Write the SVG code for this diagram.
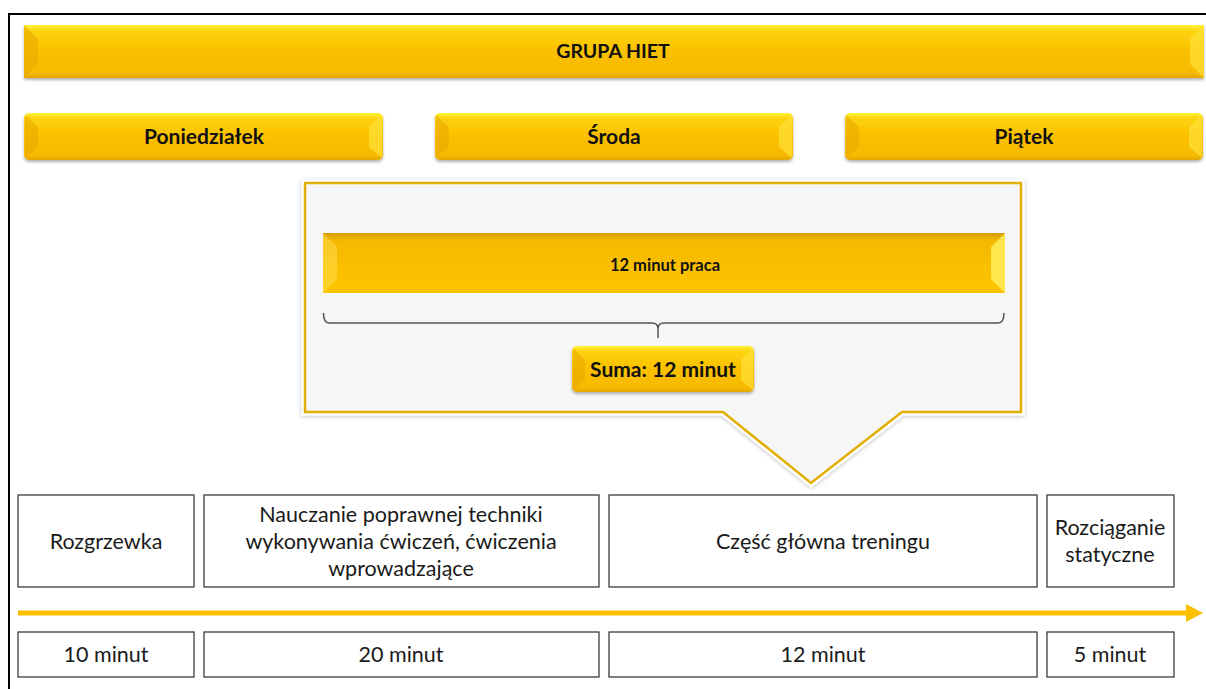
<svg xmlns="http://www.w3.org/2000/svg" width="1206" height="689" viewBox="0 0 1206 689">
<defs>
<linearGradient id="gold" x1="0" y1="0" x2="0" y2="1">
<stop offset="0" stop-color="#fff33a"/>
<stop offset="0.12" stop-color="#fdd20c"/>
<stop offset="0.5" stop-color="#fbc000"/>
<stop offset="0.9" stop-color="#f7ba00"/>
<stop offset="1" stop-color="#e3a700"/>
</linearGradient>
<linearGradient id="goldIn" x1="0" y1="0" x2="0" y2="1">
<stop offset="0" stop-color="#d49c00"/>
<stop offset="0.12" stop-color="#f4b800"/>
<stop offset="0.6" stop-color="#fbc000"/>
<stop offset="1" stop-color="#fcc400"/>
</linearGradient>
<filter id="sh" x="-5%" y="-20%" width="110%" height="150%">
<feDropShadow dx="0" dy="2" stdDeviation="1.5" flood-color="#000" flood-opacity="0.3"/>
</filter>
<filter id="sh2" x="-5%" y="-10%" width="110%" height="130%">
<feDropShadow dx="0" dy="1" stdDeviation="2" flood-color="#000" flood-opacity="0.25"/>
</filter>
<style>
.bold{font-family:Lato,"Liberation Sans",sans-serif;font-weight:bold;fill:#111;text-anchor:middle}
.reg{font-family:Lato,"Liberation Sans",sans-serif;fill:#1a1a1a;text-anchor:middle;font-size:21.5px}
.box{fill:#fff;stroke:#3c3c3c;stroke-width:1.3}
.bevL{fill:#e8a800;opacity:0.55}
.bevR{fill:#ffe640;opacity:0.6}
</style>
</defs>
<rect width="1206" height="689" fill="#fff"/>
<path d="M9,689 V14 H1206" fill="none" stroke="#000" stroke-width="2"/>

<g id="grupa-hiet">
<rect x="24" y="25" width="1180" height="53" fill="url(#gold)" filter="url(#sh)"/>
<polygon class="bevL" points="24,25 38,39 38,64 24,78"/>
<polygon class="bevR" points="1204,25 1190,39 1190,64 1204,78"/>
<text class="bold" x="613" y="58" font-size="19.5">GRUPA HIET</text>
</g>

<g id="poniedzialek">
<rect x="24" y="113" width="359" height="47" rx="5" fill="url(#gold)" filter="url(#sh)"/>
<polygon class="bevL" points="25,115 38,127 38,147 25,158"/>
<polygon class="bevR" points="382,115 369,127 369,147 382,158"/>
<text class="bold" x="204" y="144" font-size="21">Poniedziałek</text>
</g>
<g id="sroda">
<rect x="435" y="113" width="358" height="47" rx="5" fill="url(#gold)" filter="url(#sh)"/>
<polygon class="bevL" points="436,115 449,127 449,147 436,158"/>
<polygon class="bevR" points="792,115 779,127 779,147 792,158"/>
<text class="bold" x="614" y="144" font-size="21">Środa</text>
</g>
<g id="piatek">
<rect x="845" y="113" width="358" height="47" rx="5" fill="url(#gold)" filter="url(#sh)"/>
<polygon class="bevL" points="846,115 859,127 859,147 846,158"/>
<polygon class="bevR" points="1202,115 1189,127 1189,147 1202,158"/>
<text class="bold" x="1024" y="144" font-size="21">Piątek</text>
</g>

<g id="callout">
<path d="M305,183 H1021 V412 H902 L811,483 L723,412 H305 Z" fill="#f6f6f6" stroke="#fff" stroke-width="7" stroke-linejoin="miter" filter="url(#sh2)"/>
<path d="M305,183 H1021 V412 H902 L811,483 L723,412 H305 Z" fill="#f6f6f6" stroke="#e2ae00" stroke-width="2.5"/>
</g>

<g id="praca">
<rect x="323" y="233" width="682" height="60" fill="url(#goldIn)"/>
<polygon points="323,233 337,247 337,279 323,293" fill="#fde35a" opacity="0.45"/>
<polygon points="1005,233 991,247 991,279 1005,293" fill="#fff060" opacity="0.8"/>
<text class="bold" x="665" y="271" font-size="16.5">12 minut praca</text>
</g>

<g id="brace">
<path d="M323.5,313 Q323.5,323 329,323 H652 Q658,323 658,329 V338 M658,329 Q658,323 664,323 H998 Q1004,323 1004,313" fill="none" stroke="#555" stroke-width="1.5"/>
</g>

<g id="suma">
<rect x="572" y="346" width="182" height="46" rx="5" fill="url(#gold)" filter="url(#sh)"/>
<polygon class="bevL" points="573,348 585,359 585,380 573,390"/>
<polygon class="bevR" points="753,348 741,359 741,380 753,390"/>
<text class="bold" x="663" y="377" font-size="21">Suma: 12 minut</text>
</g>

<g id="rozgrzewka">
<rect class="box" x="18" y="495" width="176" height="92"/>
<text class="reg" x="106" y="549">Rozgrzewka</text>
</g>
<g id="nauczanie">
<rect class="box" x="204" y="495" width="395" height="92"/>
<text class="reg" x="401" y="522">Nauczanie poprawnej techniki</text>
<text class="reg" x="401" y="549">wykonywania ćwiczeń, ćwiczenia</text>
<text class="reg" x="401" y="576">wprowadzające</text>
</g>
<g id="czesc-glowna">
<rect class="box" x="609" y="495" width="428" height="92"/>
<text class="reg" x="823" y="549">Część główna treningu</text>
</g>
<g id="rozciaganie">
<rect class="box" x="1047" y="495" width="127" height="92"/>
<text class="reg" x="1110" y="535">Rozciąganie</text>
<text class="reg" x="1110" y="562">statyczne</text>
</g>

<g id="connectors">
<line x1="18" y1="613" x2="1188" y2="613" stroke="#fbbf00" stroke-width="5"/>
<polygon points="1186,604 1203,613 1186,622" fill="#fbbf00"/>
</g>

<g id="t10">
<rect class="box" x="18" y="632" width="176" height="45"/>
<text class="reg" x="106" y="662">10 minut</text>
</g>
<g id="t20">
<rect class="box" x="204" y="632" width="395" height="45"/>
<text class="reg" x="401" y="662">20 minut</text>
</g>
<g id="t12">
<rect class="box" x="609" y="632" width="428" height="45"/>
<text class="reg" x="823" y="662">12 minut</text>
</g>
<g id="t5">
<rect class="box" x="1047" y="632" width="127" height="45"/>
<text class="reg" x="1110" y="662">5 minut</text>
</g>
</svg>
